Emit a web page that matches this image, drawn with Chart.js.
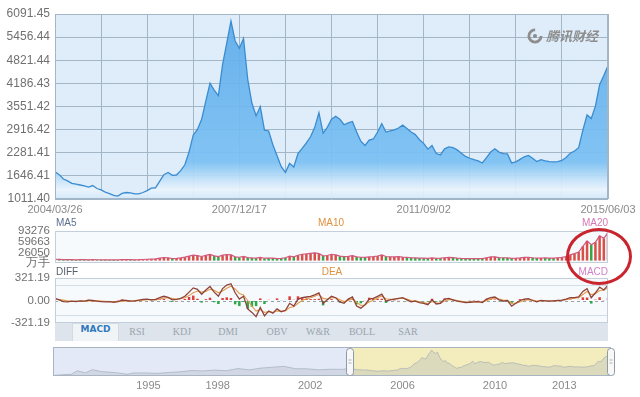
<!DOCTYPE html>
<html>
<head>
<meta charset="utf-8">
<script src="https://cdn.jsdelivr.net/npm/chart.js@4.4.1/dist/chart.umd.min.js"></script>
<style>
  body { margin: 0; background: #fff; width: 640px; height: 397px; overflow: hidden; position: relative;
         font-family: "Liberation Sans", Arial, sans-serif; }
  canvas { position: absolute; left: 0; display: block; }
  #tabs { position: absolute; left: 55px; top: 323px; width: 553px; height: 18px; background: #dde4eb; }
  .tab { position: absolute; top: 3px; font: 10px "Liberation Serif", serif; color: #9ba4ae; transform: translateX(-50%); }
  .tab.on { top: 0; height: 17px; line-height: 17px; width: 45px; text-align: center; background: #f1f4f7;
            border: 1px solid #d2dbe3; border-bottom: none; transform: none;
            font: bold 9px "DejaVu Sans", sans-serif; color: #2f78bd; }
  #logo { position: absolute; left: 527px; top: 26px; color: #8d8d8d; font: italic bold 13px "Noto Sans CJK SC", sans-serif;
          display: flex; align-items: center; gap: 3px; }
  #ring { position: absolute; left: 566px; top: 228px; width: 60px; height: 51px; border: 3px solid #c9252e; border-radius: 50%; }
</style>
</head>
<body>
<canvas id="main" width="640" height="216" style="top:0"></canvas>
<canvas id="vol" width="640" height="58" style="top:214px"></canvas>
<canvas id="macd" width="640" height="66" style="top:266px"></canvas>
<div id="tabs">
  <div class="tab on" style="left:17px">MACD</div>
  <div class="tab" style="left:82px">RSI</div>
  <div class="tab" style="left:127px">KDJ</div>
  <div class="tab" style="left:173px">DMI</div>
  <div class="tab" style="left:222px">OBV</div>
  <div class="tab" style="left:263px">W&amp;R</div>
  <div class="tab" style="left:307px">BOLL</div>
  <div class="tab" style="left:353px">SAR</div>
</div>
<canvas id="nav" width="640" height="54" style="top:343px"></canvas>
<div id="logo">
  <svg width="16" height="16" viewBox="0 0 17 17"><circle cx="8.5" cy="8.5" r="6.5" fill="none" stroke="#8d8d8d" stroke-width="3" stroke-dasharray="30 11"/><circle cx="8.5" cy="8.5" r="2.2" fill="#8d8d8d"/></svg>
  <span>腾讯财经</span>
</div>
<div id="ring"></div>
<script>
// monthly close, 2004/03/26 .. 2015/06/03
const price = [1761,1680,1560,1510,1440,1420,1396,1370,1340,1380,
  1300,1260,1200,1160,1110,1090,1165,1190,1180,1150,
  1150,1190,1240,1310,1320,1500,1680,1740,1660,1670,
  1790,1950,2300,2770,2920,3200,3700,4190,4000,3850,
  4700,5290,5900,5350,5150,5420,4300,3640,3300,3550,
  2900,2880,2500,2200,1900,1740,1990,1890,2260,2400,
  2550,2720,2980,3380,2820,2980,3200,3280,3200,3050,
  3100,3140,2850,2600,2480,2630,2660,2850,3080,2850,
  2880,2910,2960,3040,2950,2850,2780,2640,2540,2380,
  2480,2260,2220,2390,2440,2420,2360,2270,2180,2130,
  2090,2060,2000,2150,2300,2390,2300,2260,2250,2000,
  2030,2100,2170,2210,2130,2040,2090,2060,2040,2030,
  2040,2070,2150,2270,2330,2420,2900,3320,3220,3560,
  4150,4400,4670];

// volume, 万手
const volume = [4200,3600,3100,3300,2900,2600,2800,3000,2500,3200,
  2700,2400,2600,2200,2500,2300,3400,3000,2800,2600,
  2900,3500,4200,4800,5200,7800,9500,9000,6500,6800,
  8500,11000,14000,17000,15500,13000,16500,19500,15000,12500,
  17000,19000,18500,12000,10500,13000,9500,8500,8000,10000,
  7500,8200,7800,6500,7200,9000,14000,12000,17000,20000,
  21000,23000,24500,22000,15000,16000,20000,18000,14000,12500,
  13500,15500,12000,10500,10000,11500,12500,14500,18000,13000,
  12000,11500,12500,11000,10000,9000,8500,8000,7500,7000,
  8500,7000,7500,9000,10000,9500,8000,7000,6500,6000,
  6500,6000,6200,9000,11500,12000,9500,9000,8500,7000,
  7500,8500,10000,10500,9000,8000,8200,8500,7800,8000,
  9000,10000,13000,18000,22000,27000,45000,62000,50000,58000,
  78000,70000,88000];

const diff = [30,10,-15,-20,-10,-15,-5,-10,5,0,
  -10,-15,-20,-15,-25,-15,5,0,-10,-5,
  5,15,20,10,15,40,60,45,10,15,
  30,60,120,180,160,90,150,200,120,60,
  170,220,240,110,20,60,-120,-170,-230,-100,
  -220,-150,-180,-120,-160,-140,-40,-80,20,40,
  50,60,80,110,-40,10,60,40,-20,-40,
  20,50,-80,-110,-60,20,30,60,90,-10,
  10,20,30,40,10,-20,-10,-30,-40,-60,
  10,-50,-40,20,30,10,-10,-20,-30,-25,
  -20,-15,-30,20,40,50,10,-10,0,-80,
  -40,0,20,25,0,-20,0,-5,-10,-5,
  0,5,20,40,40,50,130,170,40,110,
  190,150,220];

const dea = [20,15,5,-5,-10,-12,-10,-10,-5,-2,
  -5,-8,-12,-15,-18,-17,-10,-5,-6,-5,
  -2,4,10,12,13,22,35,40,30,22,
  25,38,70,110,135,120,130,160,145,110,
  135,175,205,165,100,80,0,-80,-150,-130,
  -170,-160,-170,-150,-155,-148,-100,-90,-40,0,
  25,40,60,85,30,20,40,40,10,-15,
  0,25,-25,-70,-65,-20,5,35,65,25,
  18,19,25,33,20,0,-5,-18,-30,-45,
  -15,-33,-37,-8,12,11,0,-10,-20,-22,
  -21,-18,-24,-2,20,35,22,5,2,-40,
  -40,-20,0,12,6,-7,-3,-4,-7,-6,
  -3,1,10,25,32,41,85,128,84,97,
  143,146,183];

const macd = [10,-5,-20,-15,0,-3,5,0,10,2,
  -5,-7,-8,0,-7,2,15,5,-4,0,
  7,11,10,-2,2,18,25,5,-20,-7,
  5,22,50,70,25,-30,20,40,-25,-50,
  35,45,35,-55,-80,-20,-120,-90,-80,30,
  -50,10,-10,30,-5,8,60,10,60,40,
  25,20,20,25,-70,-10,20,0,-30,-25,
  20,25,-55,-40,5,40,25,25,25,-35,
  -8,1,5,7,-10,-20,-5,-12,-10,-15,
  25,-17,-3,28,18,-1,-10,-10,-10,-3,
  1,3,-6,22,20,15,-12,-15,-2,-40,
  0,20,20,13,-6,-13,3,-1,-3,1,
  3,4,10,15,8,9,45,42,-44,13,
  47,4,37];

const priceTicks = [1011.40,1646.41,2281.41,2916.42,3551.42,4186.43,4821.44,5456.44,6091.45];
const priceTickLabels = ['1011.40','1646.41','2281.41','2916.42','3551.42','4186.43','4821.44','5456.44','6091.45'];
const dateTickIndex = [0, 44, 88, 132];
const dateTickLabels = ['2004/03/26','2007/12/17','2011/09/02','2015/06/03'];
const volTicks = [-7563, 26050, 59663, 93276];
const volTickLabels = ['万手','26050','59663','93276'];
const macdTicks = [-321.19, -207, 0, 207, 321.19];
const macdTickLabels = ['-321.19','','0.00','','321.19'];

// navigator: whole index history before the selected range
const navYears = [1991.45,1991.8,1992.2,1992.45,1992.8,1993.1,1993.5,1993.9,1994.3,1994.6,
  1994.9,1995.4,1995.9,1996.4,1996.9,1997.4,1997.9,1998.4,1998.9,1999.4,
  1999.9,2000.4,2000.9,2001.4,2001.9,2002.4,2002.9,2003.4,2003.9];
const navValues = [160,290,400,1200,700,1450,1000,850,650,400,
  700,700,600,800,950,1250,1150,1350,1200,1700,
  1400,1800,2000,2200,1650,1650,1400,1550,1500];
const navTickYears = [1995, 1998, 2002, 2006, 2010, 2013];
const rangeStart = 2004.23, rangeEnd = 2015.42;

const last = price.length - 1;
const gridIdx = [];
for (let i = 0; i <= last; i += 11) gridIdx.push(i);
const upDown = price.map((v, i) => (i === 0 || v >= price[i - 1]) ? '#d8504a' : '#3aa445');

const panel = {
  id: 'panel',
  beforeDraw(chart, args, o) {
    const a = chart.chartArea, c = chart.ctx;
    c.save();
    c.fillStyle = o.bg;
    c.fillRect(a.left, a.top, a.right - a.left, a.bottom - a.top);
    c.restore();
  },
  beforeDatasetsDraw(chart, args, o) {
    if (!o.zero) return;
    const a = chart.chartArea, c = chart.ctx, y = Math.round(chart.scales.y.getPixelForValue(0)) + 0.5;
    c.save();
    c.strokeStyle = '#9aa3ab'; c.lineWidth = 1; c.setLineDash([3, 3]);
    c.beginPath(); c.moveTo(a.left, y); c.lineTo(a.right, y); c.stroke();
    c.restore();
  },
  afterDraw(chart, args, o) {
    const a = chart.chartArea, c = chart.ctx;
    c.save();
    c.strokeStyle = o.border; c.lineWidth = 1;
    c.strokeRect(a.left + 0.5, a.top + 0.5, a.right - a.left - 1, a.bottom - a.top - 1);
    c.textBaseline = 'middle';
    (o.labels || []).forEach(l => {
      c.font = '10px "Liberation Sans", Arial, sans-serif';
      c.fillStyle = l.color; c.textAlign = l.align;
      c.fillText(l.text, l.x, l.y);
    });
    c.restore();
  }
};

const noInteract = { legend: { display: false }, tooltip: { enabled: false } };
const fixY = s => { s.width = 55; s.paddingTop = 0; s.paddingBottom = 0; };
const tickFont = { family: '"Liberation Sans", Arial, sans-serif', size: 11.5 };

// price chart
new Chart(document.getElementById('main'), {
  type: 'line',
  data: {
    datasets: [{
      data: price.map((v, i) => ({ x: i, y: v })),
      borderColor: '#3a8cd0',
      borderWidth: 1.3,
      pointRadius: 0,
      tension: 0,
      fill: 'start',
      backgroundColor: ctx => {
        const a = ctx.chart.chartArea;
        if (!a) return 'rgba(110,185,240,0.85)';
        const g = ctx.chart.ctx.createLinearGradient(0, a.top, 0, a.bottom);
        g.addColorStop(0, 'rgba(92,170,234,0.92)');
        g.addColorStop(0.8, 'rgba(122,192,243,0.92)');
        g.addColorStop(0.9, 'rgba(200,228,249,0.92)');
        g.addColorStop(0.95, 'rgba(234,244,253,0.92)');
        g.addColorStop(1, 'rgba(210,232,249,0.92)');
        return g;
      }
    }]
  },
  options: {
    responsive: false,
    animation: false,
    layout: { padding: { top: 14, right: 32, left: 0, bottom: 0 } },
    plugins: { ...noInteract, panel: { bg: '#deedf9', border: '#a3b6c7' } },
    scales: {
      x: {
        type: 'linear', min: 0, max: last,
        afterBuildTicks: s => { s.ticks = gridIdx.map(v => ({ value: v })); },
        afterFit: s => { s.height = 17; s.paddingLeft = 0; s.paddingRight = 0; },
        ticks: {
          autoSkip: false, maxRotation: 0, padding: 4, color: '#8a8a8a',
          font: { family: '"Liberation Sans", Arial, sans-serif', size: 11 },
          callback: v => { const k = dateTickIndex.indexOf(v); return k < 0 ? '' : dateTickLabels[k]; }
        },
        grid: { color: '#a3b6c7', drawTicks: false },
        border: { display: false }
      },
      y: {
        min: priceTicks[0], max: priceTicks[priceTicks.length - 1],
        afterBuildTicks: s => { s.ticks = priceTicks.map(v => ({ value: v })); },
        afterFit: fixY,
        ticks: { padding: 5, autoSkip: false, color: '#707070', font: { family: '"Liberation Sans", Arial, sans-serif', size: 12 },
                 callback: (v, i) => priceTickLabels[i] },
        grid: { color: '#a3b6c7', drawTicks: false },
        border: { display: false }
      }
    }
  },
  plugins: [panel]
});

// volume chart
new Chart(document.getElementById('vol'), {
  type: 'bar',
  data: {
    datasets: [
      { type: 'line', data: volume.map((v, i) => ({ x: i, y: v })), borderColor: '#d2587c', borderWidth: 1.2,
        pointRadius: 0, tension: 0, order: 1 },
      { data: volume.map((v, i) => ({ x: i, y: v })), backgroundColor: upDown, barPercentage: 0.6,
        categoryPercentage: 1, order: 2 }
    ]
  },
  options: {
    responsive: false,
    animation: false,
    layout: { padding: { top: 17, right: 32, left: 0, bottom: 9 } },
    plugins: { ...noInteract, panel: { bg: '#f7fafd', border: '#c3d0db', labels: [
      { text: 'MA5', x: 56, y: 9, align: 'left', color: '#5b7090' },
      { text: 'MA10', x: 331, y: 9, align: 'center', color: '#e0913c' },
      { text: 'MA20', x: 608, y: 9, align: 'right', color: '#d478b6' }
    ] } },
    scales: {
      x: { type: 'linear', min: 0, max: last, offset: false, display: false, grid: { offset: false } },
      y: {
        min: volTicks[0], max: volTicks[volTicks.length - 1],
        afterBuildTicks: s => { s.ticks = volTicks.map(v => ({ value: v })); },
        afterFit: fixY,
        ticks: { padding: 5, autoSkip: false, color: '#707070', font: tickFont, callback: (v, i) => volTickLabels[i] },
        grid: { display: false, drawTicks: false },
        border: { display: false }
      }
    }
  },
  plugins: [panel]
});

// MACD chart
new Chart(document.getElementById('macd'), {
  type: 'bar',
  data: {
    datasets: [
      { type: 'line', data: dea.map((v, i) => ({ x: i, y: v })), borderColor: '#e49c4c', borderWidth: 1.1,
        pointRadius: 0, tension: 0, order: 2 },
      { type: 'line', data: diff.map((v, i) => ({ x: i, y: v })), borderColor: '#8e4238', borderWidth: 1.3,
        pointRadius: 0, tension: 0, order: 1 },
      { data: macd.map((v, i) => ({ x: i, y: v })), backgroundColor: macd.map(v => v >= 0 ? '#dc3f3a' : '#2ea94a'),
        barPercentage: 0.6, categoryPercentage: 1, order: 3 }
    ]
  },
  options: {
    responsive: false,
    animation: false,
    layout: { padding: { top: 12, right: 32, left: 0, bottom: 9 } },
    plugins: { ...noInteract, panel: { bg: '#f7fafd', border: '#c3d0db', zero: true, labels: [
      { text: 'DIFF', x: 56, y: 6.5, align: 'left', color: '#56606c' },
      { text: 'DEA', x: 332, y: 6.5, align: 'center', color: '#e0913c' },
      { text: 'MACD', x: 608, y: 6.5, align: 'right', color: '#cf80c8' }
    ] } },
    scales: {
      x: { type: 'linear', min: 0, max: last, offset: false, display: false, grid: { offset: false } },
      y: {
        min: macdTicks[0], max: macdTicks[macdTicks.length - 1],
        afterBuildTicks: s => { s.ticks = macdTicks.map(v => ({ value: v })); },
        afterFit: fixY,
        ticks: { padding: 5, autoSkip: false, color: '#707070', font: tickFont, callback: (v, i) => macdTickLabels[i] },
        grid: { drawTicks: false, color: ctx => (ctx.index === 1 || ctx.index === 3) ? '#d3dde6' : 'rgba(0,0,0,0)' },
        border: { display: false }
      }
    }
  },
  plugins: [panel]
});

// navigator
const navStep = (rangeEnd - rangeStart) / last;
const navData = navYears.map((y, i) => ({ x: y, y: navValues[i] }))
  .concat(price.map((v, i) => ({ x: rangeStart + i * navStep, y: v })));

const navPanel = {
  id: 'navPanel',
  beforeDatasetsDraw(chart) {
    const a = chart.chartArea, c = chart.ctx, xs = chart.scales.x;
    const x0 = xs.getPixelForValue(rangeStart);
    c.save();
    c.fillStyle = '#e3e9f6';
    c.fillRect(a.left, a.top, x0 - a.left, a.bottom - a.top);
    c.fillStyle = '#f3edbd';
    c.fillRect(x0, a.top, a.right - x0, a.bottom - a.top);
    c.restore();
  },
  afterDraw(chart) {
    const a = chart.chartArea, c = chart.ctx, xs = chart.scales.x;
    const x0 = xs.getPixelForValue(rangeStart);
    c.save();
    c.strokeStyle = '#a9b5c1'; c.lineWidth = 1;
    c.strokeRect(a.left + 0.5, a.top + 0.5, a.right - a.left - 1, a.bottom - a.top - 1);
    c.strokeStyle = '#9aa6b0';
    c.beginPath(); c.moveTo(x0 + 0.5, a.top); c.lineTo(x0 + 0.5, a.bottom); c.stroke();
    [x0, a.right - 1].forEach(x => {
      const w = 7, h = a.bottom - a.top - 2, l = Math.round(x - w / 2) + 0.5, t = a.top + 1.5;
      c.fillStyle = '#f8f8f8'; c.strokeStyle = '#8e9aa6';
      c.beginPath(); c.roundRect(l, t, w, h, 3); c.fill(); c.stroke();
      c.strokeStyle = '#a8b2bb';
      c.beginPath();
      c.moveTo(l + 2, t + h / 2 - 2); c.lineTo(l + 5, t + h / 2 - 2);
      c.moveTo(l + 2, t + h / 2 + 1); c.lineTo(l + 5, t + h / 2 + 1);
      c.stroke();
    });
    c.restore();
  }
};

new Chart(document.getElementById('nav'), {
  type: 'line',
  data: {
    datasets: [{
      data: navData, borderColor: 'rgba(150,160,178,0.55)', borderWidth: 1, pointRadius: 0, tension: 0,
      fill: 'start', backgroundColor: 'rgba(160,168,188,0.28)'
    }]
  },
  options: {
    responsive: false,
    animation: false,
    layout: { padding: { top: 4, right: 29, left: 53, bottom: 0 } },
    plugins: noInteract,
    scales: {
      x: {
        type: 'linear', min: 1991.4, max: 2015.55,
        afterBuildTicks: s => { s.ticks = navTickYears.map(v => ({ value: v })); },
        afterFit: s => { s.height = 21; s.paddingLeft = 0; s.paddingRight = 0; },
        ticks: { align: 'start', padding: 3, color: '#8a8a8a', autoSkip: false, maxRotation: 0,
                 font: { family: '"Liberation Sans", Arial, sans-serif', size: 11 }, callback: v => String(v) },
        grid: { display: false, drawTicks: false },
        border: { display: false }
      },
      y: { display: false, min: 0, max: 6600 }
    }
  },
  plugins: [navPanel]
});
</script>
</body>
</html>
